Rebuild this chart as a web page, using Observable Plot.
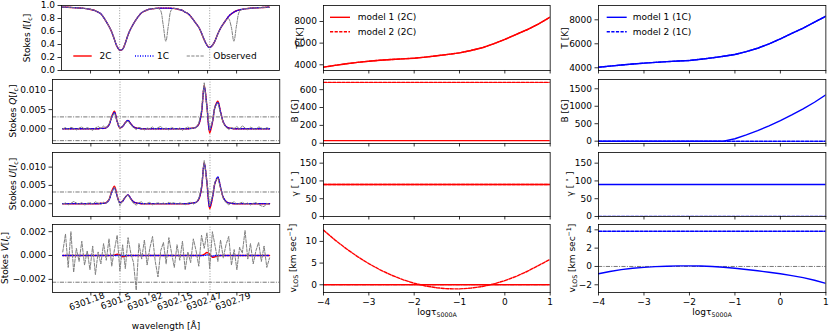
<!DOCTYPE html>
<html><head><meta charset="utf-8">
<script src="https://cdn.jsdelivr.net/npm/d3@7"></script>
<script src="https://cdn.jsdelivr.net/npm/@observablehq/plot@0.6"></script>
<style>
body{margin:0;background:#fff;}
#root{position:relative;width:831px;height:333px;overflow:hidden;font-family:"DejaVu Sans",sans-serif;font-size:9px;color:#000;background:#fff;}
.lab{position:absolute;white-space:nowrap;font-size:9px;line-height:1;}
.rot{transform:translate(-50%,-50%) rotate(-90deg);}
.hor{transform:translate(-50%,-50%);}
sub,sup{font-size:70%;line-height:0;}
</style></head><body><div id="root"></div>
<script>
// ---------- data: spectral panels ----------
const wavelength = [6300.87,6300.90,6300.93,6300.96,6300.99,6301.02,6301.05,6301.08,6301.11,6301.14,
6301.17,6301.20,6301.23,6301.26,6301.29,6301.32,6301.35,6301.38,6301.41,6301.44,
6301.47,6301.50,6301.53,6301.56,6301.59,6301.62,6301.65,6301.68,6301.71,6301.74,
6301.77,6301.80,6301.83,6301.86,6301.89,6301.92,6301.95,6301.98,6302.01,6302.04,
6302.07,6302.10,6302.13,6302.16,6302.19,6302.22,6302.25,6302.28,6302.31,6302.34,
6302.37,6302.40,6302.43,6302.46,6302.49,6302.52,6302.55,6302.58,6302.61,6302.64,
6302.67,6302.70,6302.73,6302.76,6302.79,6302.82,6302.85,6302.88,6302.91,6302.94,
6302.97,6303.00,6303.03,6303.06,6303.09,6303.12,6303.15];
const lineCenters = [6301.5012, 6302.4936];
const waveTickValues = [6301.18, 6301.5, 6301.82, 6302.15, 6302.47, 6302.79];
const waveTickLabels = ["6301.18","6301.5","6301.82","6302.15","6302.47","6302.79"];

const I_2C = [0.975,0.974,0.972,0.970,0.968,0.965,0.962,0.959,0.956,0.950,
0.943,0.933,0.922,0.901,0.877,0.826,0.759,0.688,0.604,0.492,
0.373,0.315,0.324,0.409,0.535,0.634,0.710,0.779,0.837,0.885,
0.911,0.928,0.944,0.950,0.954,0.958,0.959,0.959,0.960,0.959,
0.957,0.955,0.950,0.936,0.927,0.899,0.880,0.839,0.787,0.727,
0.673,0.584,0.481,0.398,0.355,0.380,0.451,0.555,0.642,0.711,
0.770,0.829,0.869,0.898,0.919,0.931,0.941,0.948,0.953,0.958,
0.961,0.963,0.966,0.968,0.970,0.972,0.974];
const I_1C = [0.975,0.974,0.972,0.970,0.968,0.965,0.962,0.959,0.956,0.950,
0.943,0.933,0.922,0.901,0.877,0.826,0.759,0.688,0.604,0.493,
0.376,0.318,0.322,0.407,0.535,0.634,0.710,0.779,0.837,0.885,
0.911,0.928,0.944,0.950,0.954,0.958,0.959,0.959,0.960,0.959,
0.957,0.955,0.950,0.936,0.927,0.899,0.880,0.839,0.787,0.727,
0.673,0.586,0.485,0.396,0.352,0.383,0.452,0.555,0.642,0.711,
0.770,0.829,0.869,0.898,0.919,0.931,0.941,0.948,0.953,0.958,
0.961,0.963,0.966,0.968,0.970,0.972,0.974];
const I_obs = [0.976,0.973,0.973,0.969,0.968,0.966,0.961,0.960,0.955,0.951,
0.942,0.934,0.921,0.902,0.876,0.827,0.758,0.689,0.603,0.494,
0.372,0.313,0.325,0.408,0.536,0.633,0.711,0.778,0.838,0.884,
0.912,0.927,0.945,0.949,0.955,0.957,0.930,0.710,0.450,0.710,
0.930,0.954,0.951,0.935,0.928,0.898,0.881,0.838,0.788,0.726,
0.674,0.583,0.482,0.397,0.356,0.379,0.452,0.554,0.643,0.710,
0.771,0.800,0.680,0.450,0.700,0.905,0.940,0.949,0.952,0.959,
0.960,0.964,0.965,0.969,0.969,0.973,0.973];

const Q_2C = [0,0,0,0,0,0,0,0,0,0,
0,0,0,0,0.0001,0.0001,0.0003,0.0010,0.0032,0.0046,
0.0019,0.0002,0.0006,0.0016,0.0022,0.0013,0.0005,0.0002,0.0001,0,
0,0,0,0,0,0,0,0,0,0,
0,0,0,0,0,0,0,0.0001,0.0002,0.0004,
0.0012,0.0042,0.0114,0.0058,-0.0011,0.0016,0.0058,0.0072,0.0044,0.0017,
0.0006,0.0002,0.0001,0,0,0,0,0,0,0,
0,0,0,0,0,0,0];
const Q_1C = [0,0,0,0,0,0,0,0,0,0,
0,0,0,0,0.0001,0.0001,0.0003,0.0010,0.0030,0.0043,
0.0019,0.0003,0.0006,0.0016,0.0022,0.0013,0.0005,0.0002,0.0001,0,
0,0,0,0,0,0,0,0,0,0,
0,0,0,0,0,0,0,0.0001,0.0002,0.0004,
0.0013,0.0044,0.0110,0.0058,-0.0004,0.0018,0.0057,0.0069,0.0044,0.0018,
0.0006,0.0002,0.0001,0,0,0,0,0,0,0,
0,0,0,0,0,0,0];
const Q_obs = [0.0000,0.0003,-0.0002,0.0004,0.0001,-0.0003,0.0002,0.0005,-0.0001,0.0003,
0.0000,-0.0004,0.0002,0.0006,0.0001,0.0007,0.0003,0.0012,0.0031,0.0041,
0.0020,0.0001,0.0007,0.0016,0.0020,0.0011,0.0003,-0.0002,0.0004,0.0001,
-0.0003,0.0002,0.0000,0.0005,-0.0002,0.0003,0.0006,-0.0001,0.0002,-0.0003,
0.0004,0.0000,-0.0002,0.0003,-0.0004,0.0001,0.0005,-0.0001,0.0003,0.0002,
0.0015,0.0048,0.0120,0.0055,-0.0002,0.0019,0.0060,0.0068,0.0040,0.0015,
0.0004,-0.0002,0.0003,0.0001,0.0006,-0.0001,0.0008,0.0002,-0.0003,0.0004,
0.0001,-0.0002,0.0005,0.0002,-0.0001,0.0003,0.0000];

const U_2C = [0,0,0,0,0,0,0,0,0,0,
0,0,0,0,0.0001,0.0001,0.0003,0.0011,0.0034,0.0048,
0.0021,0.0003,0.0007,0.0018,0.0024,0.0014,0.0005,0.0002,0.0001,0,
0,0,0,0,0,0,0,0,0,0,
0,0,0,0,0,0,0,0.0001,0.0002,0.0004,
0.0012,0.0042,0.0113,0.0057,-0.0014,0.0015,0.0057,0.0071,0.0044,0.0017,
0.0006,0.0002,0.0001,0,0,0,0,0,0,0,
0,0,0,0,0,0,0];
const U_1C = [0,0,0,0,0,0,0,0,0,0,
0,0,0,0,0.0001,0.0001,0.0003,0.0010,0.0031,0.0043,
0.0020,0.0003,0.0007,0.0018,0.0024,0.0014,0.0005,0.0002,0.0001,0,
0,0,0,0,0,0,0,0,0,0,
0,0,0,0,0,0,0,0.0001,0.0002,0.0004,
0.0013,0.0044,0.0110,0.0058,-0.0008,0.0017,0.0058,0.0073,0.0045,0.0018,
0.0006,0.0002,0.0001,0,0,0,0,0,0,0,
0,0,0,0,0,0,0];
const U_obs = [-0.0001,0.0002,-0.0003,0.0001,0.0006,0.0002,-0.0002,0.0004,-0.0004,0.0001,
0.0003,-0.0001,0.0005,0.0002,-0.0003,0.0004,0.0001,0.0011,0.0033,0.0045,
0.0021,-0.0006,0.0009,0.0019,0.0023,0.0012,0.0001,-0.0004,0.0003,0.0005,
-0.0002,0.0001,0.0004,-0.0003,0.0000,0.0003,-0.0001,0.0002,-0.0002,0.0004,
0.0001,0.0003,-0.0002,0.0002,0.0000,-0.0003,0.0002,0.0004,-0.0001,0.0003,
0.0014,0.0047,0.0118,0.0060,-0.0006,0.0021,0.0062,0.0070,0.0043,0.0014,
0.0003,-0.0003,0.0002,0.0005,-0.0002,0.0001,0.0004,-0.0001,0.0002,-0.0004,
0.0001,0.0003,-0.0002,-0.0006,-0.0008,0.0001,-0.0003];

const V_2C = [0,0,0,0,0,0,0,0,0,0,
0,0,0,0,0,0,0,0,0,0.00003,
0.0001,0.00005,-0.0001,-0.00005,0,0,0,0,0,0,
0,0,0,0,0,0,0,0,0,0,
0,0,0,0,0,0,0,0,0,0,
0,0,0.0001,0.00025,0.0001,-0.00015,-0.0001,-0.00003,0,0,
0,0,0,0,0,0,0,0,0,0,
0,0,0,0,0,0,0];
const V_1C = [0,0,0,0,0,0,0,0,0,0,
0,0,0,0,0,0,0,0,0,0,
0,0,0,0,0,0,0,0,0,0,
0,0,0,0,0,0,0,0,0,0,
0,0,0,0,0,0,0,0,0,0,
0,0,0,0.00005,0,-0.00005,0,0,0,0,
0,0,0,0,0,0,0,0,0,0,
0,0,0,0,0,0,0];
const V_obs = [0.0003,0.0018,-0.0010,0.0020,-0.0014,0.0006,-0.0005,0.0012,-0.0008,0.0004,
-0.0012,0.0008,-0.0016,0.0003,-0.0007,0.0010,-0.0004,0.0014,-0.0009,0.0005,
0.0017,-0.0013,0.0009,-0.0011,0.0015,0.0002,-0.0006,-0.0029,0.0010,-0.0003,
0.0013,-0.0008,0.0006,0.0016,-0.0005,-0.0018,0.0004,0.0011,-0.0007,0.0015,
0.0002,-0.0010,0.0009,-0.0004,0.0012,-0.0012,0.0003,-0.0006,0.0014,0.0004,
-0.0009,0.0017,0.0006,0.0019,-0.0011,0.0020,0.0008,-0.0005,0.0013,-0.0002,
0.0009,0.0016,-0.0008,0.0005,-0.0012,0.0007,0.0002,0.0021,-0.0003,0.0010,
-0.0007,0.0004,0.0011,-0.0005,0.0008,-0.0010,-0.0002];

const qNoise = [0.0031, -0.0031];
const uNoise = [0.0032];
const vNoise = [-0.00224];

// ---------- data: atmosphere panels ----------
const logTau = [-4,-3.75,-3.5,-3.25,-3,-2.75,-2.5,-2.25,-2,-1.75,-1.5,-1.25,-1,-0.75,-0.5,-0.25,0,0.25,0.5,0.75,1];
const logTauTicks = [-4,-3,-2,-1,0,1];

const T_2C_m1 = [3780,3940,4090,4220,4330,4420,4490,4550,4610,4710,4830,4960,5100,5320,5570,5940,6340,6800,7260,7790,8400];
const T_2C_m2 = [3780,3940,4090,4220,4330,4420,4490,4550,4610,4710,4830,4960,5100,5320,5570,5940,6340,6800,7260,7790,8400];
const B_2C_m1 = [30,30,30,30,30,30,30,30,30,30,30,30,30,30,30,30,30,30,30,30,30];
const B_2C_m2 = [681,681,681,681,681,681,681,681,681,681,681,681,681,681,681,681,681,681,681,681,681];
const G_2C_m1 = [90,90,90,90,90,90,90,90,90,90,90,90,90,90,90,90,90,90,90,90,90];
const G_2C_m2 = [90,90,90,90,90,90,90,90,90,90,90,90,90,90,90,90,90,90,90,90,90];
const V_2C_m1 = [0,0,0,0,0,0,0,0,0,0,0,0,0,0,0,0,0,0,0,0,0];
const V_2C_m2 = [12.6,10.36,8.33,6.50,4.87,3.44,2.21,1.18,0.35,-0.28,-0.70,-0.93,-0.95,-0.77,-0.40,0.18,0.96,1.94,3.12,4.50,5.87];

const T_1C_m1 = [4050,4140,4230,4310,4385,4450,4510,4560,4610,4715,4830,4960,5110,5350,5630,5990,6410,6860,7300,7800,8300];
const T_1C_m2 = [4050,4140,4230,4310,4385,4450,4510,4560,4610,4715,4830,4960,5110,5350,5630,5990,6410,6860,7300,7800,8300];
const B_1C_m1 = [0,0,0,0,0,0,0,0,0,0,0,0,70,180,300,440,590,750,925,1115,1327];
const B_1C_m2 = [0,0,0,0,0,0,0,0,0,0,0,0,0,0,0,0,0,0,0,0,0];
const G_1C_m1 = [90,90,90,90,90,90,90,90,90,90,90,90,90,90,90,90,90,90,90,90,90];
const G_1C_m2 = [0,0,0,0,0,0,0,0,0,0,0,0,0,0,0,0,0,0,0,0,0];
const V_1C_m1 = [-0.80,-0.55,-0.35,-0.20,-0.10,-0.02,0.03,0.06,0.07,0.05,0.0,-0.08,-0.20,-0.33,-0.47,-0.63,-0.80,-1.00,-1.22,-1.50,-1.85];
const V_1C_m2 = [3.85,3.85,3.85,3.85,3.85,3.85,3.85,3.85,3.85,3.85,3.85,3.85,3.85,3.85,3.85,3.85,3.85,3.85,3.85,3.85,3.85];

// ---------- drawing ----------
const root = document.getElementById("root");
const FONT = "DejaVu Sans, sans-serif";
const RED = "#ff0000", BLUE = "#0000ff", GRAY = "#808080";
const DASH = "3.2,1.4", DOT = "1,1.5", DASHDOT = "4.2,1.3,1,1.3", GUIDE = "1,1.6";

function place(el, left, top) {
  el.style.position = "absolute";
  el.style.left = left + "px";
  el.style.top = top + "px";
  root.appendChild(el);
}

function panel(o) {
  const ml = 60, mr = 6, mt = 6, mb = o.mb ?? 8;
  const W = o.x1 - o.x0, H = o.y1 - o.y0;
  const svg = Plot.plot({
    width: W + ml + mr, height: H + mt + mb,
    marginLeft: ml, marginRight: mr, marginTop: mt, marginBottom: mb,
    x: {domain: o.xd}, y: {domain: o.yd},
    style: {background: "none", fontFamily: FONT, fontSize: "9px", color: "#000", overflow: "visible"},
    marks: [
      ...o.marks,
      Plot.frame({stroke: "#000", strokeWidth: 0.8}),
      Plot.axisY({ticks: o.yt, tickFormat: o.yf, tickSize: 3.5, tickPadding: 3, label: null, strokeWidth: 0.8, fontSize: 9}),
      Plot.axisX({ticks: o.xt, tickFormat: o.xf || (() => ""), tickSize: 3.5, tickPadding: 2.5, label: null, strokeWidth: 0.8, fontSize: 9}),
      ...(o.after || [])
    ]
  });
  place(svg, o.x0 - ml, o.y0 - mt);
}

function stokesMarks(m2C, m1C, obs, limits, obsCurve) {
  return [
    Plot.ruleX(lineCenters, {stroke: "#9a9a9a", strokeDasharray: GUIDE, strokeWidth: 1}),
    Plot.ruleY(limits, {stroke: "#777", strokeDasharray: DASHDOT, strokeWidth: 1, clip: true}),
    Plot.line(wavelength, {x: wavelength, y: m2C, stroke: RED, strokeWidth: 1.4, curve: "catmull-rom", clip: true}),
    Plot.line(wavelength, {x: wavelength, y: m1C, stroke: BLUE, strokeWidth: 1.3, strokeDasharray: DOT, curve: "catmull-rom", clip: true}),
    Plot.line(wavelength, {x: wavelength, y: obs, stroke: GRAY, strokeWidth: 1, strokeDasharray: DASH, curve: obsCurve, clip: true})
  ];
}

const f1 = d3.format(".1f"), f3 = d3.format(".3f"), fd = d3.format("d");
const rows = [[5, 70], [79, 143], [152, 216], [224, 292]];
const wdI = [6300.860, 6303.263], wd = [6300.757, 6303.263];

panel({x0: 61, x1: 279, y0: rows[0][0], y1: rows[0][1], xd: wdI, yd: [0, 1],
  yt: [0, 0.2, 0.4, 0.6, 0.8, 1.0], yf: f1, xt: waveTickValues,
  marks: stokesMarks(I_2C, I_1C, I_obs, [], "catmull-rom")});
panel({x0: 51.7, x1: 279, y0: rows[1][0], y1: rows[1][1], xd: wd, yd: [-0.00384, 0.01286],
  yt: [0, 0.005, 0.010], yf: f3, xt: waveTickValues,
  marks: stokesMarks(Q_2C, Q_1C, Q_obs, qNoise, "linear")});
panel({x0: 51.7, x1: 279, y0: rows[2][0], y1: rows[2][1], xd: wd, yd: [-0.0035, 0.0140],
  yt: [0, 0.005, 0.010], yf: f3, xt: waveTickValues,
  marks: stokesMarks(U_2C, U_1C, U_obs, uNoise, "linear")});
panel({x0: 51.7, x1: 279, y0: rows[3][0], y1: rows[3][1], xd: wd, yd: [-0.0031, 0.0026],
  yt: [-0.002, 0, 0.002], yf: f3, xt: waveTickValues, mb: 40,
  marks: stokesMarks(V_2C, V_1C, V_obs, vNoise, "linear"),
  after: [Plot.text(waveTickValues, {x: d => d, frameAnchor: "bottom", text: (d, i) => waveTickLabels[i],
    rotate: -20, dx: -4, dy: 9, textAnchor: "middle", lineAnchor: "middle", fontSize: 9, fill: "#000"})]});

function atmMarks(m1, m2, color, zeroRule) {
  const out = [];
  if (zeroRule) out.push(Plot.ruleY([0], {stroke: "#777", strokeDasharray: DASHDOT, strokeWidth: 1}));
  out.push(Plot.line(logTau, {x: logTau, y: m1, stroke: color, strokeWidth: 1.4, clip: true}));
  out.push(Plot.line(logTau, {x: logTau, y: m2, stroke: color, strokeWidth: 1.4, strokeDasharray: DASH, clip: true}));
  return out;
}

const cols = [
  {x0: 323.3, x1: 550, color: RED,
   T: [T_2C_m1, T_2C_m2, [3473, 9478], [4000, 6000, 8000]],
   B: [B_2C_m1, B_2C_m2, [-2.5, 713.5], [0, 200, 400, 600]],
   G: [G_2C_m1, G_2C_m2, [0, 180], [0, 50, 100, 150]],
   V: [V_2C_m1, V_2C_m2, [-1.78, 13.9], [0, 5, 10]]},
  {x0: 598.3, x1: 825.7, color: BLUE,
   T: [T_1C_m1, T_1C_m2, [3775, 9192], [4000, 6000, 8000]],
   B: [B_1C_m1, B_1C_m2, [-66, 1766], [0, 500, 1000, 1500]],
   G: [G_1C_m1, G_1C_m2, [0, 180], [0, 50, 100, 150]],
   V: [V_1C_m1, V_1C_m2, [-2.84, 4.58], [-2, 0, 2, 4]]}
];
for (const c of cols) {
  ["T", "B", "G", "V"].forEach((k, r) => {
    const [m1, m2, yd, yt] = c[k];
    panel({x0: c.x0, x1: c.x1, y0: rows[r][0], y1: rows[r][1], xd: [-4, 1], yd, yt, yf: fd,
      xt: logTauTicks, xf: r === 3 ? fd : null, mb: r === 3 ? 40 : 8,
      marks: atmMarks(m1, m2, c.color, k === "V")});
  });
}

// ---------- axis labels ----------
function label(html, cx, cy, rot) {
  const d = document.createElement("div");
  d.className = "lab " + (rot ? "rot" : "hor");
  d.innerHTML = html;
  d.style.left = cx + "px";
  d.style.top = cy + "px";
  root.appendChild(d);
}
label("Stokes <i>I</i>[<i>I</i><sub>c</sub>]", 27, 37.5, true);
label("Stokes <i>Q</i>[<i>I</i><sub>c</sub>]", 13.3, 111, true);
label("Stokes <i>U</i>[<i>I</i><sub>c</sub>]", 13.3, 184, true);
label("Stokes <i>V</i>[<i>I</i><sub>c</sub>]", 4.8, 258, true);
label("wavelength [Å]", 166, 326, false);
const atmLabels = ["T [K]", "B [G]", "γ [ <sup>∘</sup> ]", "v<sub>LOS</sub> [km sec<sup>−1</sup>]"];
[[300, 295, 295, 293], [565, 565, 570, 572]].forEach((xs, ci) => {
  atmLabels.forEach((t, r) => label(t, xs[r], (rows[r][0] + rows[r][1]) / 2, true));
});
label("logτ<sub>5000A</sub>", 437, 312, false);
label("logτ<sub>5000A</sub>", 712, 312, false);

// ---------- legends ----------
const ov = d3.create("svg").attr("width", 831).attr("height", 333)
  .style("position", "absolute").style("left", "0px").style("top", "0px")
  .style("font-family", FONT).style("font-size", "9px");
function legItem(x1, x2, y, stroke, dash, text, tx) {
  ov.append("line").attr("x1", x1).attr("x2", x2).attr("y1", y).attr("y2", y)
    .attr("stroke", stroke).attr("stroke-width", stroke === GRAY ? 1 : 1.4)
    .attr("stroke-dasharray", dash);
  ov.append("text").attr("x", tx).attr("y", y).attr("dominant-baseline", "central").text(text);
}
legItem(73.3, 91.7, 56, RED, null, "2C", 99.5);
legItem(135, 154, 56, BLUE, DOT, "1C", 157);
legItem(186.7, 205, 56, GRAY, DASH, "Observed", 213.3);
legItem(330, 350, 17.3, RED, null, "model 1 (2C)", 357.7);
legItem(330, 350, 31.7, RED, DASH, "model 2 (2C)", 357.7);
legItem(606.7, 626.7, 17.3, BLUE, null, "model 1 (1C)", 632.7);
legItem(606.7, 626.7, 31.7, BLUE, DASH, "model 2 (1C)", 632.7);
root.appendChild(ov.node());
</script></body></html>
